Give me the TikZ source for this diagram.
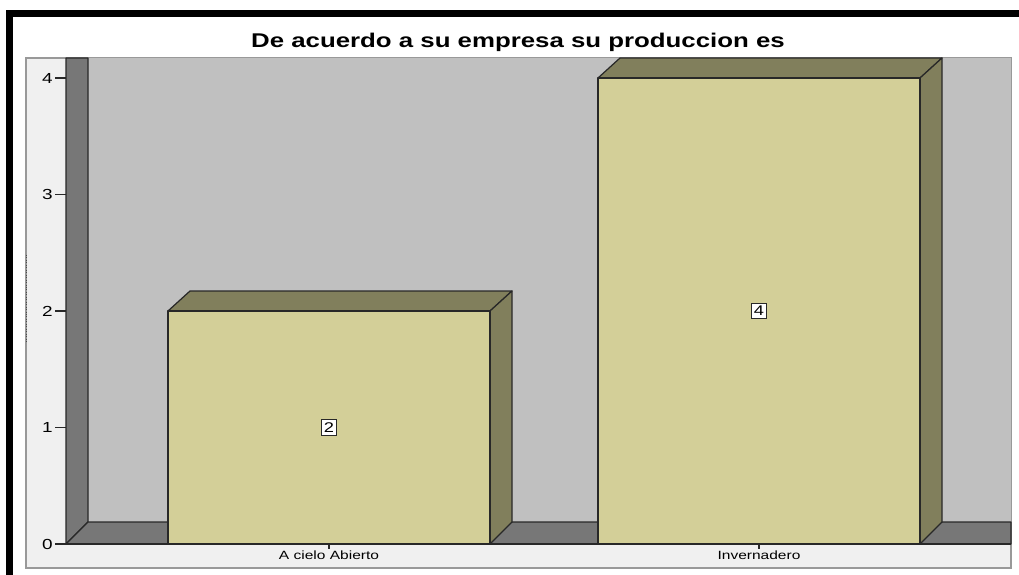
\documentclass[tikz,border=0pt]{standalone}
\usepackage{fontspec}
\setmainfont{Liberation Sans}
\usetikzlibrary{calc}
\usetikzlibrary{positioning}
\definecolor{barfront}{RGB}{211,207,152}
\definecolor{barshade}{RGB}{129,127,92}
\definecolor{wallgray}{RGB}{119,119,119}
\definecolor{backgray}{RGB}{192,192,192}
\definecolor{panelgray}{RGB}{240,240,240}
\definecolor{edgegray}{RGB}{40,40,40}
\tikzstyle{frontface} = [fill=barfront, draw=edgegray, line width=0.7pt, line join=round]
\tikzstyle{shadeface} = [fill=barshade, draw=edgegray, line width=0.7pt, line join=round]
\tikzstyle{wallface} = [fill=wallgray, draw=edgegray, line width=0.7pt, line join=round]
\tikzstyle{valbox} = [draw=edgegray, fill=white, inner sep=1.6pt, line width=0.6pt, font=\fontsize{8}{9}\selectfont]
\tikzstyle{ticklab} = [anchor=east, inner sep=0.5pt, font=\fontsize{8.3}{9}\selectfont]
\tikzstyle{catlab} = [anchor=north, inner sep=0pt, font=\fontsize{6.8}{7.5}\selectfont]
\newcommand{\widetxt}[1]{\scalebox{1.3}[1]{#1}}

\begin{document}
\begin{tikzpicture}[x=0.02cm, y=-0.02cm]
    \useasboundingbox[fill=white] (0,0) rectangle (1019,575);
    % frame
    \fill[black] (6,10) rectangle (13,575);
    \fill[black] (6,10) rectangle (1019,17);

    \node (title) at (518,42) {\widetxt{\fontsize{11.3}{13}\selectfont\bfseries De acuerdo a su empresa su produccion es}};

    % panel and walls
    \draw[fill=panelgray, draw=gray!80, line width=0.6pt] (26,58) rectangle (1011,568);
    \draw[densely dotted, gray!60!black] (26,255) -- (26,342);
    \fill[backgray] (88,58) rectangle (1011,522);
    \draw[wallface] (66,58) -- (88,58) -- (88,522) -- (66,544) -- cycle;
    \draw[wallface] (66,544) -- (88,522) -- (1011,522) -- (1011,544) -- cycle;

    % y axis
    \foreach \v in {0,...,4} {
        \draw[edgegray, line width=0.6pt] (55,{544-116.5*\v}) -- (66,{544-116.5*\v});
        \node[ticklab] (tick\v) at (54,{544-116.5*\v}) {\widetxt{\v}};
    }

    % bar A cielo Abierto
    \coordinate (abar_bl) at (168,544);
    \coordinate (abar_tr) at (490,311);
    \draw[shadeface] (168,311) -- ($(168,311)+(22,-20)$) -- ($(abar_tr)+(22,-20)$) -- (abar_tr) -- cycle;
    \draw[shadeface] (abar_tr) -- ($(abar_tr)+(22,-20)$) -- (512,522) -- (490,544) -- cycle;
    \draw[frontface] (abar_bl) rectangle (abar_tr);
    \node[valbox] (abar_val) at ($(abar_bl)!0.5!(abar_tr)$) {\widetxt{2}};

    % bar Invernadero
    \coordinate (ibar_bl) at (598,544);
    \coordinate (ibar_tr) at (920,78);
    \draw[shadeface] (598,78) -- ($(598,78)+(22,-20)$) -- ($(ibar_tr)+(22,-20)$) -- (ibar_tr) -- cycle;
    \draw[shadeface] (ibar_tr) -- ($(ibar_tr)+(22,-20)$) -- (942,522) -- (920,544) -- cycle;
    \draw[frontface] (ibar_bl) rectangle (ibar_tr);
    \node[valbox] (ibar_val) at ($(ibar_bl)!0.5!(ibar_tr)$) {\widetxt{4}};

    % x axis
    \draw[edgegray, line width=0.6pt] (66,544) -- (1011,544);
    \draw[edgegray, line width=0.6pt] (329,544) -- (329,549);
    \draw[edgegray, line width=0.6pt] (759,544) -- (759,549);
    \node[catlab] (abar_lab) at (329,550) {\widetxt{A cielo Abierto}};
    \node[catlab] (ibar_lab) at (759,550) {\widetxt{Invernadero}};
\end{tikzpicture}
\end{document}
